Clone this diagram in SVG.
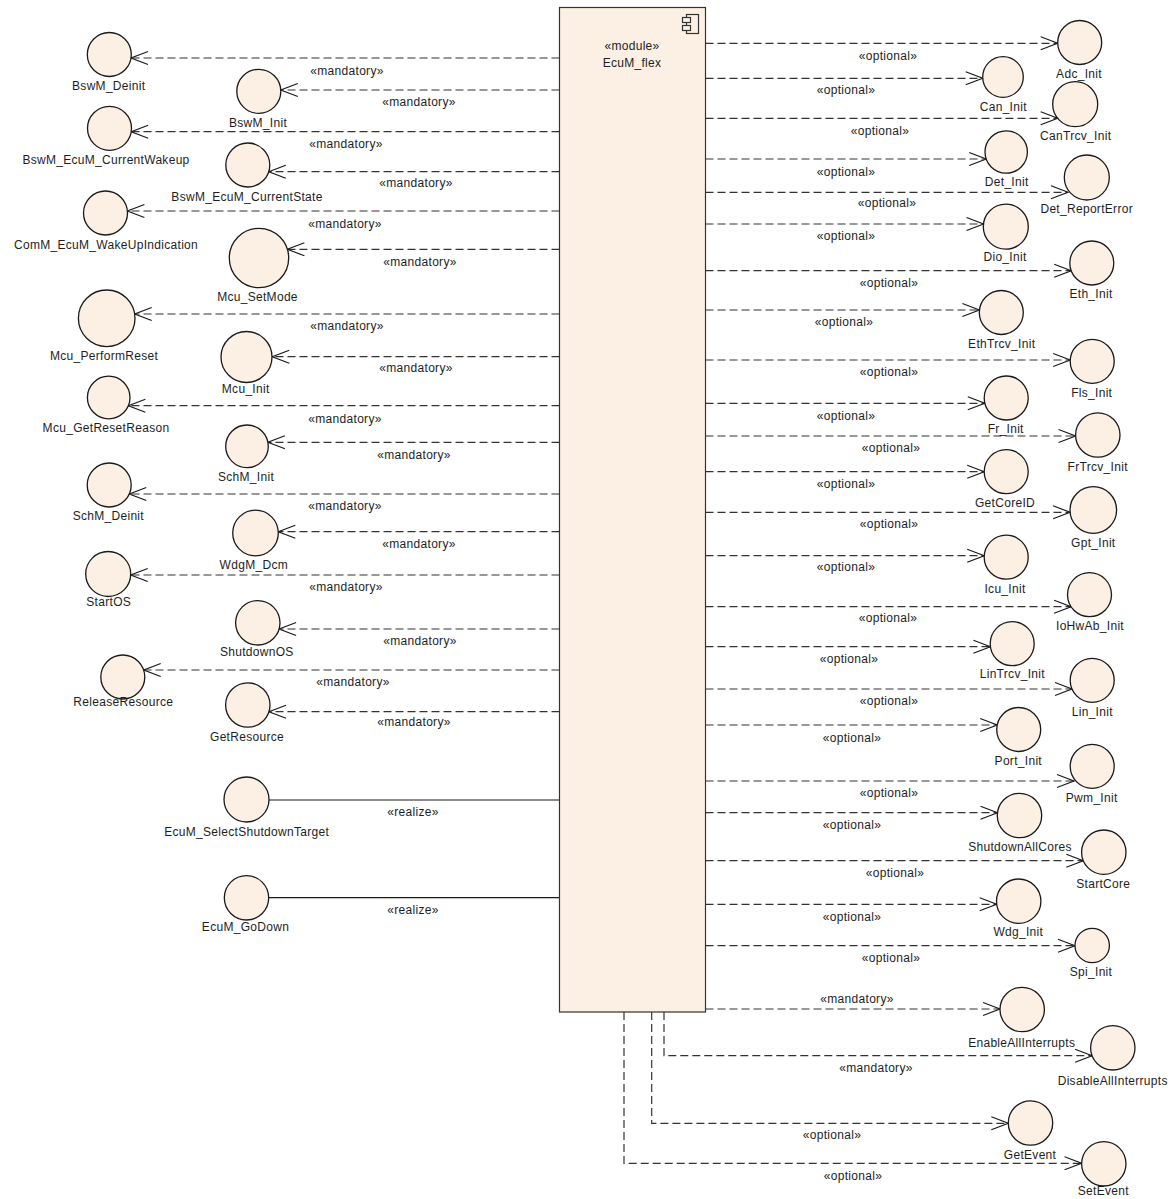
<svg xmlns="http://www.w3.org/2000/svg" width="1176" height="1199" viewBox="0 0 1176 1199">
<style>
.t{font-family:"Liberation Sans",Arial,sans-serif;font-size:12px;fill:#1e1e1e;text-anchor:middle;letter-spacing:0.3px}
.c{fill:#FBF0E3;stroke:#1a1a1a;stroke-width:1.3}
.d{fill:none;stroke:#333;stroke-width:1.2;stroke-dasharray:8 4;marker-end:url(#open)}
.s{fill:none;stroke:#1a1a1a;stroke-width:1.2}
.m{fill:#FBF0E3;stroke:#333;stroke-width:1.2}
</style>
<defs>
<marker id="open" markerUnits="userSpaceOnUse" markerWidth="20" markerHeight="16" refX="17" refY="6.5" orient="auto" overflow="visible">
<path d="M0,0 L17,6.5 L0,13" fill="none" stroke="#1a1a1a" stroke-width="1.2" stroke-dasharray="none"/>
</marker>
</defs>
<rect width="1176" height="1199" fill="#ffffff"/>

<g id="connectors">
<line class="d" x1="559.5" y1="58" x2="131" y2="58"/>
<line class="d" x1="559.5" y1="90" x2="280.8" y2="90"/>
<line class="d" x1="559.5" y1="131.7" x2="131.2" y2="131.7"/>
<line class="d" x1="559.5" y1="171.7" x2="268.8" y2="171.7"/>
<line class="d" x1="559.5" y1="211" x2="127.4" y2="211"/>
<line class="d" x1="559.5" y1="249.3" x2="287.4" y2="249.3"/>
<line class="d" x1="559.5" y1="314" x2="134.7" y2="314"/>
<line class="d" x1="559.5" y1="356.7" x2="272.3" y2="356.7"/>
<line class="d" x1="559.5" y1="405.7" x2="128.4" y2="405.7"/>
<line class="d" x1="559.5" y1="442.3" x2="267.9" y2="442.3"/>
<line class="d" x1="559.5" y1="494" x2="129.3" y2="494"/>
<line class="d" x1="559.5" y1="531.7" x2="278.3" y2="531.7"/>
<line class="d" x1="559.5" y1="575" x2="130.7" y2="575"/>
<line class="d" x1="559.5" y1="629" x2="279.1" y2="629"/>
<line class="d" x1="559.5" y1="670" x2="143.7" y2="670"/>
<line class="d" x1="559.5" y1="711.7" x2="269" y2="711.7"/>
<line class="s" x1="559.5" y1="800" x2="269" y2="800"/>
<line class="s" x1="559.5" y1="897.7" x2="268.7" y2="897.7"/>

<line class="d" x1="705.5" y1="43.3" x2="1057.7" y2="43.3"/>
<line class="d" x1="705.5" y1="78.3" x2="982.7" y2="78.3"/>
<line class="d" x1="705.5" y1="118.3" x2="1057.7" y2="118.3"/>
<line class="d" x1="705.5" y1="159" x2="986.2" y2="159"/>
<line class="d" x1="705.5" y1="192.3" x2="1068" y2="192.3"/>
<line class="d" x1="705.5" y1="224" x2="983.5" y2="224"/>
<line class="d" x1="705.5" y1="270.7" x2="1071.2" y2="270.7"/>
<line class="d" x1="705.5" y1="310" x2="979.4" y2="310"/>
<line class="d" x1="705.5" y1="360" x2="1070.2" y2="360"/>
<line class="d" x1="705.5" y1="403.3" x2="984.8" y2="403.3"/>
<line class="d" x1="705.5" y1="436" x2="1075.6" y2="436"/>
<line class="d" x1="705.5" y1="471.7" x2="984.2" y2="471.7"/>
<line class="d" x1="705.5" y1="512.3" x2="1070.1" y2="512.3"/>
<line class="d" x1="705.5" y1="555.7" x2="984.2" y2="555.7"/>
<line class="d" x1="705.5" y1="606.7" x2="1071.1" y2="606.7"/>
<line class="d" x1="705.5" y1="646.7" x2="990.4" y2="646.7"/>
<line class="d" x1="705.5" y1="689" x2="1072" y2="689"/>
<line class="d" x1="705.5" y1="725" x2="997.2" y2="725"/>
<line class="d" x1="705.5" y1="781" x2="1074" y2="781"/>
<line class="d" x1="705.5" y1="812.7" x2="997.5" y2="812.7"/>
<line class="d" x1="705.5" y1="860.7" x2="1083.3" y2="860.7"/>
<line class="d" x1="705.5" y1="904.3" x2="996.7" y2="904.3"/>
<line class="d" x1="705.5" y1="945.7" x2="1075" y2="945.7"/>
<line class="d" x1="705.5" y1="1009" x2="1000" y2="1009"/>
<path class="d" d="M664,1012 L664,1055.7 L1092.1,1055.7"/>
<path class="d" d="M651.7,1012 L651.7,1123.3 L1008.3,1123.3"/>
<path class="d" d="M624,1012 L624,1163.3 L1081.6,1163.3"/>

<text class="t" x="347" y="75">«mandatory»</text>
<text class="t" x="419" y="106">«mandatory»</text>
<text class="t" x="346" y="148">«mandatory»</text>
<text class="t" x="416" y="187">«mandatory»</text>
<text class="t" x="345" y="228">«mandatory»</text>
<text class="t" x="420" y="266">«mandatory»</text>
<text class="t" x="347" y="330">«mandatory»</text>
<text class="t" x="416" y="372">«mandatory»</text>
<text class="t" x="345" y="423">«mandatory»</text>
<text class="t" x="414" y="459">«mandatory»</text>
<text class="t" x="345" y="510">«mandatory»</text>
<text class="t" x="419" y="548">«mandatory»</text>
<text class="t" x="346" y="591">«mandatory»</text>
<text class="t" x="420" y="645">«mandatory»</text>
<text class="t" x="353" y="686">«mandatory»</text>
<text class="t" x="414" y="726">«mandatory»</text>
<text class="t" x="413" y="816">«realize»</text>
<text class="t" x="413" y="914">«realize»</text>

<text class="t" x="888" y="60">«optional»</text>
<text class="t" x="846" y="94">«optional»</text>
<text class="t" x="880" y="135">«optional»</text>
<text class="t" x="846" y="176">«optional»</text>
<text class="t" x="887" y="207">«optional»</text>
<text class="t" x="846" y="240">«optional»</text>
<text class="t" x="889" y="287">«optional»</text>
<text class="t" x="844" y="326">«optional»</text>
<text class="t" x="889" y="376">«optional»</text>
<text class="t" x="846" y="420">«optional»</text>
<text class="t" x="891" y="452">«optional»</text>
<text class="t" x="846" y="488">«optional»</text>
<text class="t" x="889" y="528">«optional»</text>
<text class="t" x="846" y="571">«optional»</text>
<text class="t" x="888" y="622">«optional»</text>
<text class="t" x="849" y="663">«optional»</text>
<text class="t" x="889" y="705">«optional»</text>
<text class="t" x="852" y="742">«optional»</text>
<text class="t" x="889" y="797">«optional»</text>
<text class="t" x="852" y="829">«optional»</text>
<text class="t" x="895" y="877">«optional»</text>
<text class="t" x="852" y="921">«optional»</text>
<text class="t" x="891" y="962">«optional»</text>
<text class="t" x="857" y="1003">«mandatory»</text>
<text class="t" x="876" y="1072">«mandatory»</text>
<text class="t" x="832" y="1139">«optional»</text>
<text class="t" x="853" y="1180">«optional»</text>
</g>

<g id="EcuM_flex">
<rect class="m" x="559.5" y="7.5" width="146" height="1004.5"/>
<rect class="m" x="686.5" y="14.5" width="12" height="19"/>
<rect class="m" x="682.5" y="17.5" width="8" height="5"/>
<rect class="m" x="682.5" y="25.5" width="8" height="5"/>
<text class="t" x="632" y="50">«module»</text>
<text class="t" x="632" y="67">EcuM_flex</text>
</g>

<g id="BswM_Deinit"><circle class="c" cx="109.3" cy="54.5" r="22"/><text class="t" x="108.7" y="90">BswM_Deinit</text></g>
<g id="BswM_Init"><circle class="c" cx="258.8" cy="91.3" r="22"/><text class="t" x="258" y="127">BswM_Init</text></g>
<g id="BswM_EcuM_CurrentWakeup"><circle class="c" cx="109.5" cy="128.3" r="22"/><text class="t" x="106" y="164">BswM_EcuM_CurrentWakeup</text></g>
<g id="BswM_EcuM_CurrentState"><circle class="c" cx="247.8" cy="165" r="22"/><text class="t" x="247" y="201">BswM_EcuM_CurrentState</text></g>
<g id="ComM_EcuM_WakeUpIndication"><circle class="c" cx="105.5" cy="213" r="22"/><text class="t" x="106" y="249">ComM_EcuM_WakeUpIndication</text></g>
<g id="Mcu_SetMode"><circle class="c" cx="259" cy="258" r="29.7"/><text class="t" x="257.5" y="301">Mcu_SetMode</text></g>
<g id="Mcu_PerformReset"><circle class="c" cx="106.7" cy="318.3" r="28.3"/><text class="t" x="104" y="360">Mcu_PerformReset</text></g>
<g id="Mcu_Init"><circle class="c" cx="246.5" cy="357" r="25.5"/><text class="t" x="245.7" y="393">Mcu_Init</text></g>
<g id="Mcu_GetResetReason"><circle class="c" cx="108.7" cy="397.5" r="21.3"/><text class="t" x="106" y="432">Mcu_GetResetReason</text></g>
<g id="SchM_Init"><circle class="c" cx="247" cy="446.3" r="21.3"/><text class="t" x="246" y="481">SchM_Init</text></g>
<g id="SchM_Deinit"><circle class="c" cx="109.2" cy="485" r="22"/><text class="t" x="108.3" y="520">SchM_Deinit</text></g>
<g id="WdgM_Dcm"><circle class="c" cx="255.5" cy="533" r="22.8"/><text class="t" x="253.8" y="569">WdgM_Dcm</text></g>
<g id="StartOS"><circle class="c" cx="108.2" cy="574" r="22.5"/><text class="t" x="108.7" y="606">StartOS</text></g>
<g id="ShutdownOS"><circle class="c" cx="257.8" cy="622.8" r="22.2"/><text class="t" x="256.8" y="656">ShutdownOS</text></g>
<g id="ReleaseResource"><circle class="c" cx="122.8" cy="677" r="22"/><text class="t" x="123.3" y="706">ReleaseResource</text></g>
<g id="GetResource"><circle class="c" cx="247.8" cy="705" r="22.2"/><text class="t" x="247" y="741">GetResource</text></g>
<g id="EcuM_SelectShutdownTarget"><circle class="c" cx="246.5" cy="799.5" r="22.5"/><text class="t" x="246.7" y="836">EcuM_SelectShutdownTarget</text></g>
<g id="EcuM_GoDown"><circle class="c" cx="246.5" cy="897.8" r="22.2"/><text class="t" x="245.5" y="931">EcuM_GoDown</text></g>

<g id="Adc_Init"><circle class="c" cx="1079.7" cy="42.5" r="22"/><text class="t" x="1079" y="78">Adc_Init</text></g>
<g id="Can_Init"><circle class="c" cx="1003" cy="77" r="20.3"/><text class="t" x="1003.3" y="111">Can_Init</text></g>
<g id="CanTrcv_Init"><circle class="c" cx="1075.2" cy="104.2" r="22.5"/><text class="t" x="1075.7" y="140">CanTrcv_Init</text></g>
<g id="Det_Init"><circle class="c" cx="1006.2" cy="152" r="21.2"/><text class="t" x="1006.7" y="186">Det_Init</text></g>
<g id="Det_ReportError"><circle class="c" cx="1086.8" cy="177.5" r="22.5"/><text class="t" x="1086.7" y="213">Det_ReportError</text></g>
<g id="Dio_Init"><circle class="c" cx="1005.8" cy="226.7" r="22.5"/><text class="t" x="1005" y="261">Dio_Init</text></g>
<g id="Eth_Init"><circle class="c" cx="1091.8" cy="263" r="22"/><text class="t" x="1091" y="298">Eth_Init</text></g>
<g id="EthTrcv_Init"><circle class="c" cx="1001.3" cy="312.5" r="22"/><text class="t" x="1001.7" y="348">EthTrcv_Init</text></g>
<g id="Fls_Init"><circle class="c" cx="1092.2" cy="361.3" r="22"/><text class="t" x="1091.7" y="397">Fls_Init</text></g>
<g id="Fr_Init"><circle class="c" cx="1006.2" cy="398" r="22"/><text class="t" x="1005.7" y="433">Fr_Init</text></g>
<g id="FrTrcv_Init"><circle class="c" cx="1097.8" cy="435" r="22.2"/><text class="t" x="1097.7" y="471">FrTrcv_Init</text></g>
<g id="GetCoreID"><circle class="c" cx="1006.2" cy="471.7" r="22"/><text class="t" x="1005" y="507">GetCoreID</text></g>
<g id="Gpt_Init"><circle class="c" cx="1093.3" cy="510" r="23.3"/><text class="t" x="1093.3" y="547">Gpt_Init</text></g>
<g id="Icu_Init"><circle class="c" cx="1006.2" cy="557.2" r="22"/><text class="t" x="1005" y="593">Icu_Init</text></g>
<g id="IoHwAb_Init"><circle class="c" cx="1089.5" cy="594.7" r="22"/><text class="t" x="1090" y="630">IoHwAb_Init</text></g>
<g id="LinTrcv_Init"><circle class="c" cx="1012.2" cy="643.7" r="22"/><text class="t" x="1012.3" y="678">LinTrcv_Init</text></g>
<g id="Lin_Init"><circle class="c" cx="1092.2" cy="680.3" r="22"/><text class="t" x="1092.3" y="716">Lin_Init</text></g>
<g id="Port_Init"><circle class="c" cx="1018.7" cy="729.5" r="22"/><text class="t" x="1018.3" y="765">Port_Init</text></g>
<g id="Pwm_Init"><circle class="c" cx="1092.2" cy="766.3" r="22"/><text class="t" x="1091.7" y="802">Pwm_Init</text></g>
<g id="ShutdownAllCores"><circle class="c" cx="1019.5" cy="815.5" r="22.2"/><text class="t" x="1020" y="851">ShutdownAllCores</text></g>
<g id="StartCore"><circle class="c" cx="1103.8" cy="852.2" r="22.2"/><text class="t" x="1103.3" y="888">StartCore</text></g>
<g id="Wdg_Init"><circle class="c" cx="1018.7" cy="901.2" r="22.2"/><text class="t" x="1018.3" y="936">Wdg_Init</text></g>
<g id="Spi_Init"><circle class="c" cx="1092.2" cy="945.5" r="17.2"/><text class="t" x="1091" y="976">Spi_Init</text></g>
<g id="EnableAllInterrupts"><circle class="c" cx="1022.2" cy="1009.5" r="22.2"/><text class="t" x="1021.7" y="1047">EnableAllInterrupts</text></g>
<g id="DisableAllInterrupts"><circle class="c" cx="1112.8" cy="1047.8" r="22.2"/><text class="t" x="1112.7" y="1085">DisableAllInterrupts</text></g>
<g id="GetEvent"><circle class="c" cx="1030.5" cy="1123" r="22.2"/><text class="t" x="1030" y="1159">GetEvent</text></g>
<g id="SetEvent"><circle class="c" cx="1103.8" cy="1163.8" r="22.2"/><text class="t" x="1103.3" y="1195">SetEvent</text></g>
</svg>
